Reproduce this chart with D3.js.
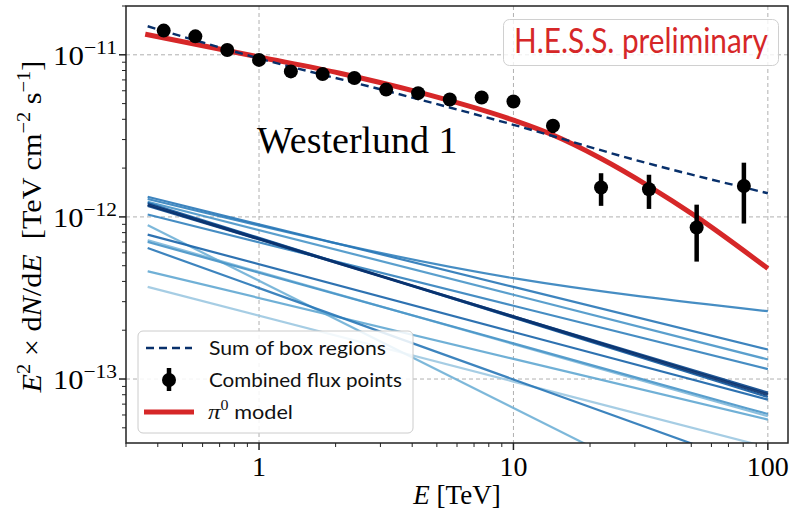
<!DOCTYPE html>
<html><head><meta charset="utf-8">
<script src="https://cdn.jsdelivr.net/npm/d3@7"></script>
<style>body{margin:0;background:#fff} text{white-space:pre}</style>
</head><body>
<svg id="c" width="790" height="515"></svg>
<script>
// ---------- data ----------
const pointE   = [0.422,0.562,0.750,1.00,1.334,1.778,2.37,3.16,4.22,5.62,7.50,10.0,14.3,22.1,34.1,52.5,80.5];
const pointF   = [1.41e-11,1.30e-11,1.07e-11,9.3e-12,7.9e-12,7.6e-12,7.2e-12,6.1e-12,5.8e-12,5.3e-12,5.45e-12,5.15e-12,3.65e-12,1.52e-12,1.48e-12,8.6e-13,1.55e-12];
const pointLo  = [1.37e-11,1.26e-11,1.04e-11,9.0e-12,7.7e-12,7.4e-12,7.0e-12,5.9e-12,5.6e-12,5.1e-12,5.25e-12,4.95e-12,3.29e-12,1.17e-12,1.12e-12,5.3e-13,9.1e-13];
const pointHi  = [1.45e-11,1.34e-11,1.10e-11,9.6e-12,8.1e-12,7.8e-12,7.4e-12,6.3e-12,6.0e-12,5.5e-12,5.65e-12,5.35e-12,3.92e-12,1.86e-12,1.82e-12,1.19e-12,2.16e-12];

const sumE = [0.365,1,3.16,10,31.6,100];
const sumF = [1.50e-11,9.5e-12,6.0e-12,3.7e-12,2.2e-12,1.40e-12];

const pionE = [0.357,1,2.08,4.2,10,14.3,22,34,52.5,100];
const pionF = [1.34e-11,9.7e-12,7.7e-12,5.9e-12,3.95e-12,3.2e-12,2.3e-12,1.55e-12,1.0e-12,4.8e-13];

const boxE = [0.365,10,100];
const boxF = [
  [1.33e-12,3.70e-13,1.52e-13],
  [1.29e-12,4.19e-13,2.62e-13],
  [1.24e-12,3.31e-13,1.32e-13],
  [1.19e-12,2.42e-13,8.01e-14],
  [1.17e-12,2.44e-13,8.24e-14],
  [1.22e-12,2.39e-13,7.74e-14],
  [1.035e-12,2.83e-13,1.15e-13],
  [8.89e-13,6.62e-14,1.09e-14],
  [7.78e-13,1.95e-13,7.46e-14],
  [7.18e-13,1.64e-13,5.89e-14],
  [7.01e-13,1.66e-13,6.08e-14],
  [6.43e-13,9.93e-14,2.71e-14],
  [4.62e-13,1.33e-13,5.62e-14],
  [3.70e-13,9.64e-14,3.79e-14]
];
const boxShade = [0.65,0.6,0.5,1.0,0.9,0.8,0.6,0.35,0.75,0.3,0.5,0.65,0.4,0.2];

const xTickVals = [1,10,100];
const xTickLabels = ["1","10","100"];
const yTickVals = [1e-11,1e-12,1e-13];
const yTickExp = ["−11","−12","−13"];

// ---------- layout ----------
const svg = d3.select("#c");
const L=126,R=788,T=6,B=443;
const x = d3.scaleLog().domain([0.3,120]).range([L,R]);
const y = d3.scaleLog().domain([4.03e-14,2.0e-11]).range([B,T]);

svg.append("defs").append("clipPath").attr("id","clip")
  .append("rect").attr("x",L).attr("y",T).attr("width",R-L).attr("height",B-T);

// grid
const grid = svg.append("g");
xTickVals.forEach(v=>grid.append("line").attr("x1",x(v)).attr("x2",x(v)).attr("y1",T).attr("y2",B)
  .attr("stroke","#b0b0b0").attr("stroke-width",1).attr("stroke-dasharray","4,3"));
yTickVals.forEach(v=>grid.append("line").attr("y1",y(v)).attr("y2",y(v)).attr("x1",L).attr("x2",R)
  .attr("stroke","#b0b0b0").attr("stroke-width",1).attr("stroke-dasharray","4,3"));

const plot = svg.append("g").attr("clip-path","url(#clip)");

// box region lines
const lineGen = d3.line().x(d=>x(d[0])).y(d=>y(d[1])).curve(d3.curveMonotoneX);
const order = d3.range(boxF.length).sort((a,b)=>boxShade[a]-boxShade[b]);
order.forEach(i=>{
  plot.append("path").datum(boxE.map((e,j)=>[e,boxF[i][j]]))
    .attr("d",lineGen).attr("fill","none")
    .attr("stroke",d3.interpolateBlues(0.22+0.78*boxShade[i]))
    .attr("stroke-width",boxShade[i]>0.95?3:2.2).attr("stroke-opacity",0.9);
});

// pi0 model
plot.append("path").datum(pionE.map((e,i)=>[e,pionF[i]]))
  .attr("d",lineGen).attr("fill","none").attr("stroke","#d62728").attr("stroke-width",5);

// sum of boxes
plot.append("path").datum(sumE.map((e,i)=>[e,sumF[i]]))
  .attr("d",lineGen).attr("fill","none").attr("stroke","#08306b").attr("stroke-width",2.4)
  .attr("stroke-dasharray","8,5");

// points
const pts = plot.append("g");
pointE.forEach((e,i)=>{
  pts.append("line").attr("x1",x(e)).attr("x2",x(e)).attr("y1",y(pointLo[i])).attr("y2",y(pointHi[i]))
    .attr("stroke","#000").attr("stroke-width",4.5);
  pts.append("circle").attr("cx",x(e)).attr("cy",y(pointF[i])).attr("r",7).attr("fill","#000");
});

// frame
svg.append("rect").attr("x",L).attr("y",T).attr("width",R-L).attr("height",B-T)
  .attr("fill","none").attr("stroke","#222").attr("stroke-width",1.5);

// ticks
const tk = svg.append("g").attr("stroke","#222");
const xMinor=[], yMinor=[];
[0.1,1,10].forEach(d=>{for(let k=2;k<=9;k++){const v=k*d; if(v>=0.3&&v<=120) xMinor.push(v);}});
[1e-14,1e-13,1e-12,1e-11].forEach(d=>{for(let k=2;k<=9;k++){const v=k*d; if(v>=4.03e-14&&v<=2.0e-11) yMinor.push(v);}});
xTickVals.forEach(v=>tk.append("line").attr("x1",x(v)).attr("x2",x(v)).attr("y1",B).attr("y2",B+7).attr("stroke-width",1.5));
xMinor.forEach(v=>tk.append("line").attr("x1",x(v)).attr("x2",x(v)).attr("y1",B).attr("y2",B+4).attr("stroke-width",1));
yTickVals.forEach(v=>tk.append("line").attr("y1",y(v)).attr("y2",y(v)).attr("x1",L).attr("x2",L-7).attr("stroke-width",1.5));
yMinor.forEach(v=>tk.append("line").attr("y1",y(v)).attr("y2",y(v)).attr("x1",L).attr("x2",L-4).attr("stroke-width",1));

const serif = "'Liberation Serif','Times New Roman',serif";
const sans = "Lato,'Open Sans',sans-serif";

// x tick labels
xTickVals.forEach((v,i)=>{
  svg.append("text").attr("x",x(v)).attr("y",476).attr("text-anchor","middle")
    .attr("font-family",serif).attr("font-size",28).text(xTickLabels[i]);
});
// y tick labels
yTickVals.forEach((v,i)=>{
  const g = svg.append("g");
  const t = g.append("text").attr("text-anchor","end")
    .attr("font-family",serif).attr("font-size",27);
  t.append("tspan").text("10");
  t.append("tspan").attr("dy",-11).attr("font-size",19).text(yTickExp[i]);
  const sx = 64 / t.node().getBBox().width;
  g.attr("transform",`translate(117,${y(v)+10}) scale(${sx},1)`);
});

// x label
{
  const g = svg.append("g").attr("transform","translate(457,504)");
  const t = g.append("text").attr("text-anchor","middle").attr("font-family",serif).attr("font-size",27);
  t.append("tspan").attr("font-style","italic").text("E");
  t.append("tspan").text(" [TeV]");
}
// y label
{
  const g = svg.append("g");
  const t = g.append("text").attr("text-anchor","middle").attr("font-family",serif).attr("font-size",28);
  const parts = [["E","it"],["2","sup"],[" × d",""],["N","it"],["/d",""],["E","it"],["  [TeV cm",""],["−2","sup"],[" s",""],["−1","sup"],["]",""]];
  let prevSup=false;
  parts.forEach(p=>{
    const s=t.append("tspan").text(p[0]);
    if(p[1]==="it") s.attr("font-style","italic");
    if(p[1]==="sup"){ s.attr("font-size",19).attr("dy",-11); prevSup=true; }
    else if(prevSup){ s.attr("dy",11); prevSup=false; }
  });
  const sx = 333 / t.node().getBBox().width;
  g.attr("transform",`translate(41,226.5) rotate(-90) scale(${sx},1)`);
}

// Westerlund 1
svg.append("text").attr("x",257).attr("y",153).attr("font-family",serif).attr("font-size",38)
  .attr("fill","#000").text("Westerlund 1");

// H.E.S.S. preliminary
svg.append("rect").attr("x",503.5).attr("y",19.5).attr("width",275).attr("height",46).attr("rx",6)
  .attr("fill","#fff").attr("fill-opacity",0.8).attr("stroke","#d0d0d0").attr("stroke-width",1);
{
  const g = svg.append("g");
  const t = g.append("text").attr("font-family",sans).attr("font-size",35).attr("fill","#d62728")
    .text("H.E.S.S. preliminary");
  const sx = 254 / t.node().getBBox().width;
  g.attr("transform",`translate(514,53) scale(${sx},1)`);
}

// legend
const lg = svg.append("g");
lg.append("rect").attr("x",138).attr("y",331).attr("width",275).attr("height",102).attr("rx",5)
  .attr("fill","#fff").attr("fill-opacity",0.85).attr("stroke","#cccccc").attr("stroke-width",1);
lg.append("line").attr("x1",146).attr("x2",192).attr("y1",348).attr("y2",348)
  .attr("stroke","#08306b").attr("stroke-width",2.4).attr("stroke-dasharray","8,5");
lg.append("line").attr("x1",169).attr("x2",169).attr("y1",368).attr("y2",391)
  .attr("stroke","#000").attr("stroke-width",4.5);
lg.append("circle").attr("cx",169).attr("cy",380).attr("r",7).attr("fill","#000");
lg.append("line").attr("x1",144).attr("x2",194).attr("y1",412).attr("y2",412)
  .attr("stroke","#d62728").attr("stroke-width",5);
const legTexts = [["Sum of box regions",348,177],["Combined flux points",380,193]];
legTexts.forEach(d=>{
  const g = lg.append("g");
  const t = g.append("text").attr("font-family",sans).attr("font-size",19).attr("fill","#111").text(d[0]);
  const sx = d[2]/t.node().getBBox().width;
  g.attr("transform",`translate(209,${d[1]+7}) scale(${sx},1)`);
});
{
  const g = lg.append("g");
  const t = g.append("text").attr("font-size",19).attr("fill","#111");
  t.append("tspan").attr("font-family",serif).attr("font-style","italic").attr("font-size",22).text("π");
  t.append("tspan").attr("font-family",serif).attr("font-size",14).attr("dy",-9).text("0");
  t.append("tspan").attr("font-family",sans).attr("dy",9).text(" model");
  const sx = 85/t.node().getBBox().width;
  g.attr("transform",`translate(208,419) scale(${sx},1)`);
}
</script>
</body></html>
